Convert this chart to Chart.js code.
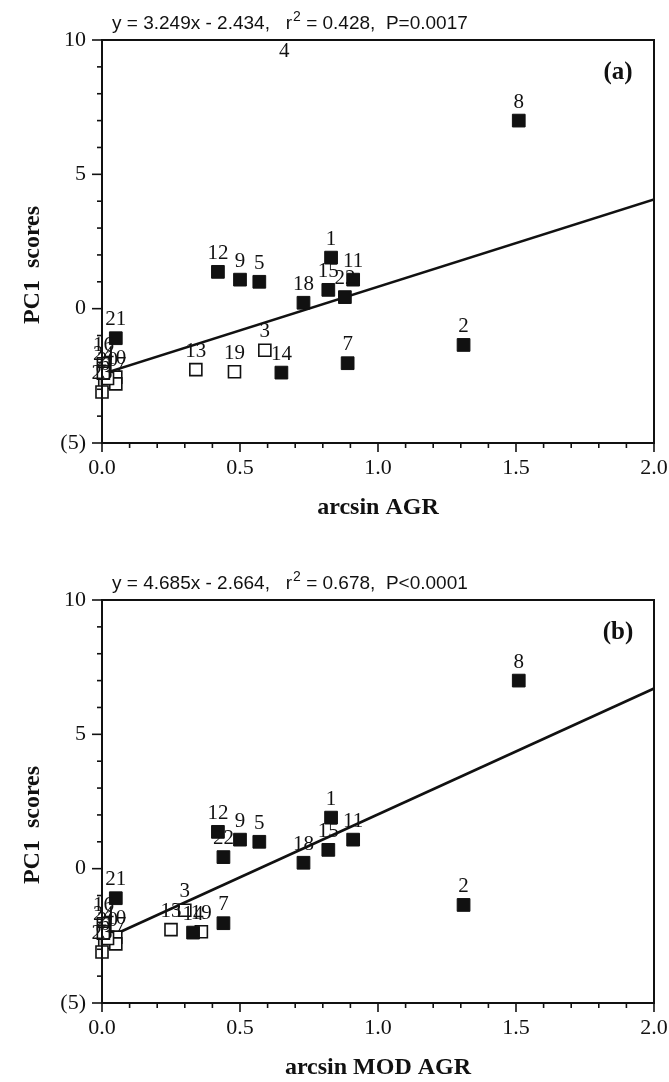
<!DOCTYPE html>
<html>
<head>
<meta charset="utf-8">
<script src="https://cdn.jsdelivr.net/npm/chart.js@4/dist/chart.umd.min.js"></script>
<style>
  html, body { margin: 0; padding: 0; background: #fff; overflow: hidden; }
  .panel { position: absolute; left: 0; width: 669px; height: 560px; }
  #panelA { top: 0; }
  #panelB { top: 560px; }
</style>
</head>
<body>
<div class="panel" id="panelA"><canvas id="chartA" width="669" height="560"></canvas></div>
<div class="panel" id="panelB"><canvas id="chartB" width="669" height="560"></canvas></div>
<script>
// site numbers
const siteIds = [1, 2, 3, 4, 5, 6, 7, 8, 9, 10, 11, 12, 13, 14, 15, 16, 17, 18, 19, 20, 21, 22, 23, 24];
// x values, panel (a) arcsin AGR
const agrValues = [0.83, 1.31, 0.59, 0.66, 0.57, 0.01, 0.89, 1.51, 0.50, 0.05, 0.91, 0.42, 0.34, 0.65, 0.82, 0.005, 0.05, 0.73, 0.48, 0.02, 0.05, 0.88, 0.0, 0.005];
// x values, panel (b) arcsin MOD AGR
const modAgrValues = [0.83, 1.31, 0.30, 2.30, 0.57, 0.01, 0.44, 1.51, 0.50, 0.05, 0.91, 0.42, 0.25, 0.33, 0.82, 0.005, 0.05, 0.73, 0.36, 0.02, 0.05, 0.44, 0.0, 0.005];
// PC1 scores (y), shared by both panels
const pc1Scores = [1.9, -1.35, -1.55, 11.5, 1.0, -2.75, -2.03, 7.0, 1.08, -2.55, 1.08, 1.37, -2.27, -2.38, 0.7, -2.05, -2.8, 0.22, -2.35, -2.6, -1.1, 0.43, -3.1, -2.4];
// filled square = true, open square = false
const isFilled = [true, true, false, true, true, false, true, true, true, false, true, true, false, true, true, false, false, true, false, false, true, true, false, false];

const xTickValues = [0, 0.5, 1.0, 1.5, 2.0];
const yTickValues = [-5, 0, 5, 10];
const fitSlopes = [3.249, 4.685];
const fitIntercepts = [-2.434, -2.664];
const fitTexts = [
  ["y = 3.249x - 2.434,   r", "2", " = 0.428,  P=0.0017"],
  ["y = 4.685x - 2.664,   r", "2", " = 0.678,  P<0.0001"]
];
const xTitles = ["arcsin AGR", "arcsin MOD AGR"];
const panelTags = ["(a)", "(b)"];

const ink = "#111";
const serif = "'Liberation Serif', 'Times New Roman', serif";
const sans = "'Liberation Sans', Arial, sans-serif";

// axes frame, minor ticks, titles, point numbers
const decor = {
  id: "decor",
  beforeDraw(chart) {
    const ctx = chart.ctx;
    ctx.save();
    ctx.fillStyle = "#fff";
    ctx.fillRect(0, 0, chart.width, chart.height);
    ctx.restore();
  },
  afterDatasetsDraw(chart) {
    const ctx = chart.ctx;
    const a = chart.chartArea;
    const xs = chart.scales.x, ys = chart.scales.y;
    ctx.save();
    ctx.fillStyle = ink;
    ctx.font = "21px " + serif;
    ctx.textAlign = "center";
    ctx.textBaseline = "alphabetic";
    chart.data.datasets.forEach((ds) => {
      if (!ds.numbered) return;
      ds.data.forEach((p) => {
        if (p.x < xs.min || p.x > xs.max) return;
        const px = xs.getPixelForValue(p.x);
        let py = ys.getPixelForValue(p.y) - 13;
        if (py < a.top + 17) py = a.top + 17;
        ctx.fillText(String(p.id), px, py);
      });
    });
    ctx.restore();
  },
  afterDraw(chart) {
    const ctx = chart.ctx;
    const a = chart.chartArea;
    const xs = chart.scales.x, ys = chart.scales.y;
    const k = chart.options.panelIndex;
    ctx.save();
    ctx.strokeStyle = ink;
    ctx.lineWidth = 2;
    ctx.strokeRect(a.left, a.top, a.right - a.left, a.bottom - a.top);

    // y ticks: major every 5, minor every 1
    ctx.lineWidth = 1.6;
    for (let v = ys.min; v <= ys.max; v += 1) {
      const py = ys.getPixelForValue(v);
      const len = v % 5 === 0 ? 10 : 5;
      ctx.beginPath();
      ctx.moveTo(a.left - len, py);
      ctx.lineTo(a.left, py);
      ctx.stroke();
    }
    // x ticks: major every 0.5, minor every 0.1
    for (let i = 0; i <= 20; i++) {
      const px = xs.getPixelForValue(i / 10);
      const len = i % 5 === 0 ? 9 : 5;
      ctx.beginPath();
      ctx.moveTo(px, a.bottom);
      ctx.lineTo(px, a.bottom + len);
      ctx.stroke();
    }

    // equation above the frame
    const parts = fitTexts[k];
    let x = 112;
    const base = 29;
    ctx.fillStyle = ink;
    ctx.textBaseline = "alphabetic";
    ctx.textAlign = "left";
    ctx.font = "19px " + sans;
    ctx.fillText(parts[0], x, base);
    x += ctx.measureText(parts[0]).width + 1;
    ctx.font = "14px " + sans;
    ctx.fillText(parts[1], x, base - 8);
    x += ctx.measureText(parts[1]).width;
    ctx.font = "19px " + sans;
    ctx.fillText(parts[2], x, base);

    // panel tag
    ctx.font = "bold 25px " + serif;
    ctx.textAlign = "center";
    ctx.textBaseline = "middle";
    ctx.fillText(panelTags[k], 618, 73);

    // axis titles
    ctx.font = "bold 24px " + serif;
    ctx.fillText(xTitles[k], (a.left + a.right) / 2, 508);
    ctx.translate(33, 265);
    ctx.rotate(-Math.PI / 2);
    ctx.fillText("PC1  scores", 0, 0);
    ctx.restore();
  }
};

function makePanel(canvasId, xValues, k) {
  const pick = (flag) => siteIds
    .map((id, i) => ({ x: xValues[i], y: pc1Scores[i], id: id }))
    .filter((p, i) => isFilled[i] === flag);
  const fitLine = [0, 2].map((x) => ({ x: x, y: fitSlopes[k] * x + fitIntercepts[k] }));
  const clip = { left: 15, top: 0, right: 0, bottom: 0 };

  return new Chart(document.getElementById(canvasId), {
    type: "scatter",
    data: {
      datasets: [
        {
          data: pick(true), numbered: true, clip: clip,
          pointStyle: "rect", pointRadius: 9, pointHoverRadius: 9,
          backgroundColor: ink, borderColor: ink, borderWidth: 1
        },
        {
          data: pick(false), numbered: true, clip: clip,
          pointStyle: "rect", pointRadius: 8.5, pointHoverRadius: 8.5,
          backgroundColor: "#fff", borderColor: ink, borderWidth: 1.6
        },
        {
          type: "line", data: fitLine, showLine: true, fill: false,
          borderColor: ink, borderWidth: 2.6, pointRadius: 0
        }
      ]
    },
    options: {
      responsive: false,
      animation: false,
      devicePixelRatio: 1,
      panelIndex: k,
      layout: { padding: { left: 0, right: 15, top: 40, bottom: 0 } },
      plugins: { legend: { display: false }, tooltip: { enabled: false } },
      scales: {
        x: {
          type: "linear", min: 0, max: 2,
          grid: { display: false, drawTicks: false },
          border: { display: false },
          afterBuildTicks: (s) => { s.ticks = xTickValues.map((v) => ({ value: v })); },
          afterFit: (s) => { s.height = 117; s.paddingLeft = 0; s.paddingRight = 0; },
          ticks: {
            color: ink, padding: 12, maxRotation: 0, autoSkip: false,
            font: { family: serif, size: 22 },
            callback: (v) => Number(v).toFixed(1)
          }
        },
        y: {
          type: "linear", min: -5, max: 10,
          grid: { display: false, drawTicks: false },
          border: { display: false },
          afterBuildTicks: (s) => { s.ticks = yTickValues.map((v) => ({ value: v })); },
          afterFit: (s) => { s.width = 102; s.paddingTop = 0; s.paddingBottom = 0; },
          ticks: {
            color: ink, padding: 16, autoSkip: false,
            font: { family: serif, size: 22 },
            callback: (v) => (v < 0 ? "(" + (-v) + ")" : String(v))
          }
        }
      }
    },
    plugins: [decor]
  });
}

makePanel("chartA", agrValues, 0);
makePanel("chartB", modAgrValues, 1);
</script>
</body>
</html>
